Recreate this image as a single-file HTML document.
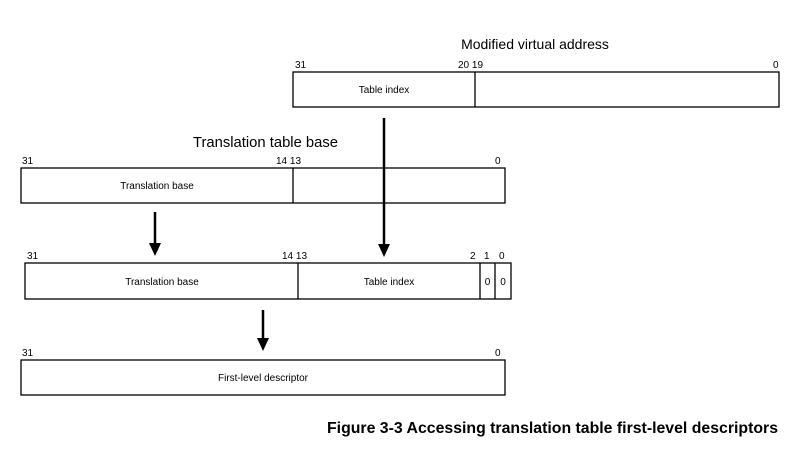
<!DOCTYPE html>
<html><head><style>body{margin:0;background:#fff}</style></head><body>
<svg width="800" height="447" xmlns="http://www.w3.org/2000/svg" font-family="Liberation Sans, sans-serif" fill="#000">
<g fill="none" stroke="#000" stroke-width="1.3">
<rect x="293" y="72" width="486" height="35"/><line x1="475" y1="72" x2="475" y2="107"/>
<rect x="21" y="168" width="484" height="35"/><line x1="293" y1="168" x2="293" y2="203"/>
<rect x="25" y="263" width="486" height="36"/><line x1="298" y1="263" x2="298" y2="299"/><line x1="480" y1="263" x2="480" y2="299"/><line x1="495" y1="263" x2="495" y2="299"/>
<rect x="21" y="360" width="484" height="35"/>
</g>
<g stroke="#000" stroke-width="2.5">
<line x1="384" y1="118" x2="384" y2="246"/><line x1="155" y1="212" x2="155" y2="245"/><line x1="263" y1="310" x2="263" y2="340"/>
</g>
<polygon points="378,244 390,244 384,257"/><polygon points="149,243 161,243 155,256"/><polygon points="257,338 269,338 263,351"/>
<text x="535" y="49" font-size="14" text-anchor="middle">Modified virtual address</text>
<text x="193" y="147" font-size="14.5" textLength="145" lengthAdjust="spacingAndGlyphs">Translation table base</text>
<g font-size="10">
<text x="295" y="68">31</text><text x="458" y="68">20 19</text><text x="773" y="68">0</text>
<text x="22" y="164">31</text><text x="276" y="164">14 13</text><text x="495" y="164">0</text>
<text x="27" y="259">31</text><text x="282" y="259">14 13</text><text x="470" y="259">2</text><text x="484" y="259">1</text><text x="499" y="259">0</text>
<text x="22" y="356">31</text><text x="495" y="356">0</text>
<text x="384" y="93" text-anchor="middle">Table index</text>
<text x="157" y="189" text-anchor="middle">Translation base</text>
<text x="162" y="285" text-anchor="middle">Translation base</text>
<text x="389" y="285" text-anchor="middle">Table index</text>
<text x="487.5" y="285" text-anchor="middle">0</text><text x="503" y="285" text-anchor="middle">0</text>
<text x="263" y="381" text-anchor="middle">First-level descriptor</text>
</g>
<text x="327" y="433" font-size="15.5" font-weight="bold" textLength="451" lengthAdjust="spacingAndGlyphs">Figure 3-3 Accessing translation table first-level descriptors</text>
</svg>
</body></html>
